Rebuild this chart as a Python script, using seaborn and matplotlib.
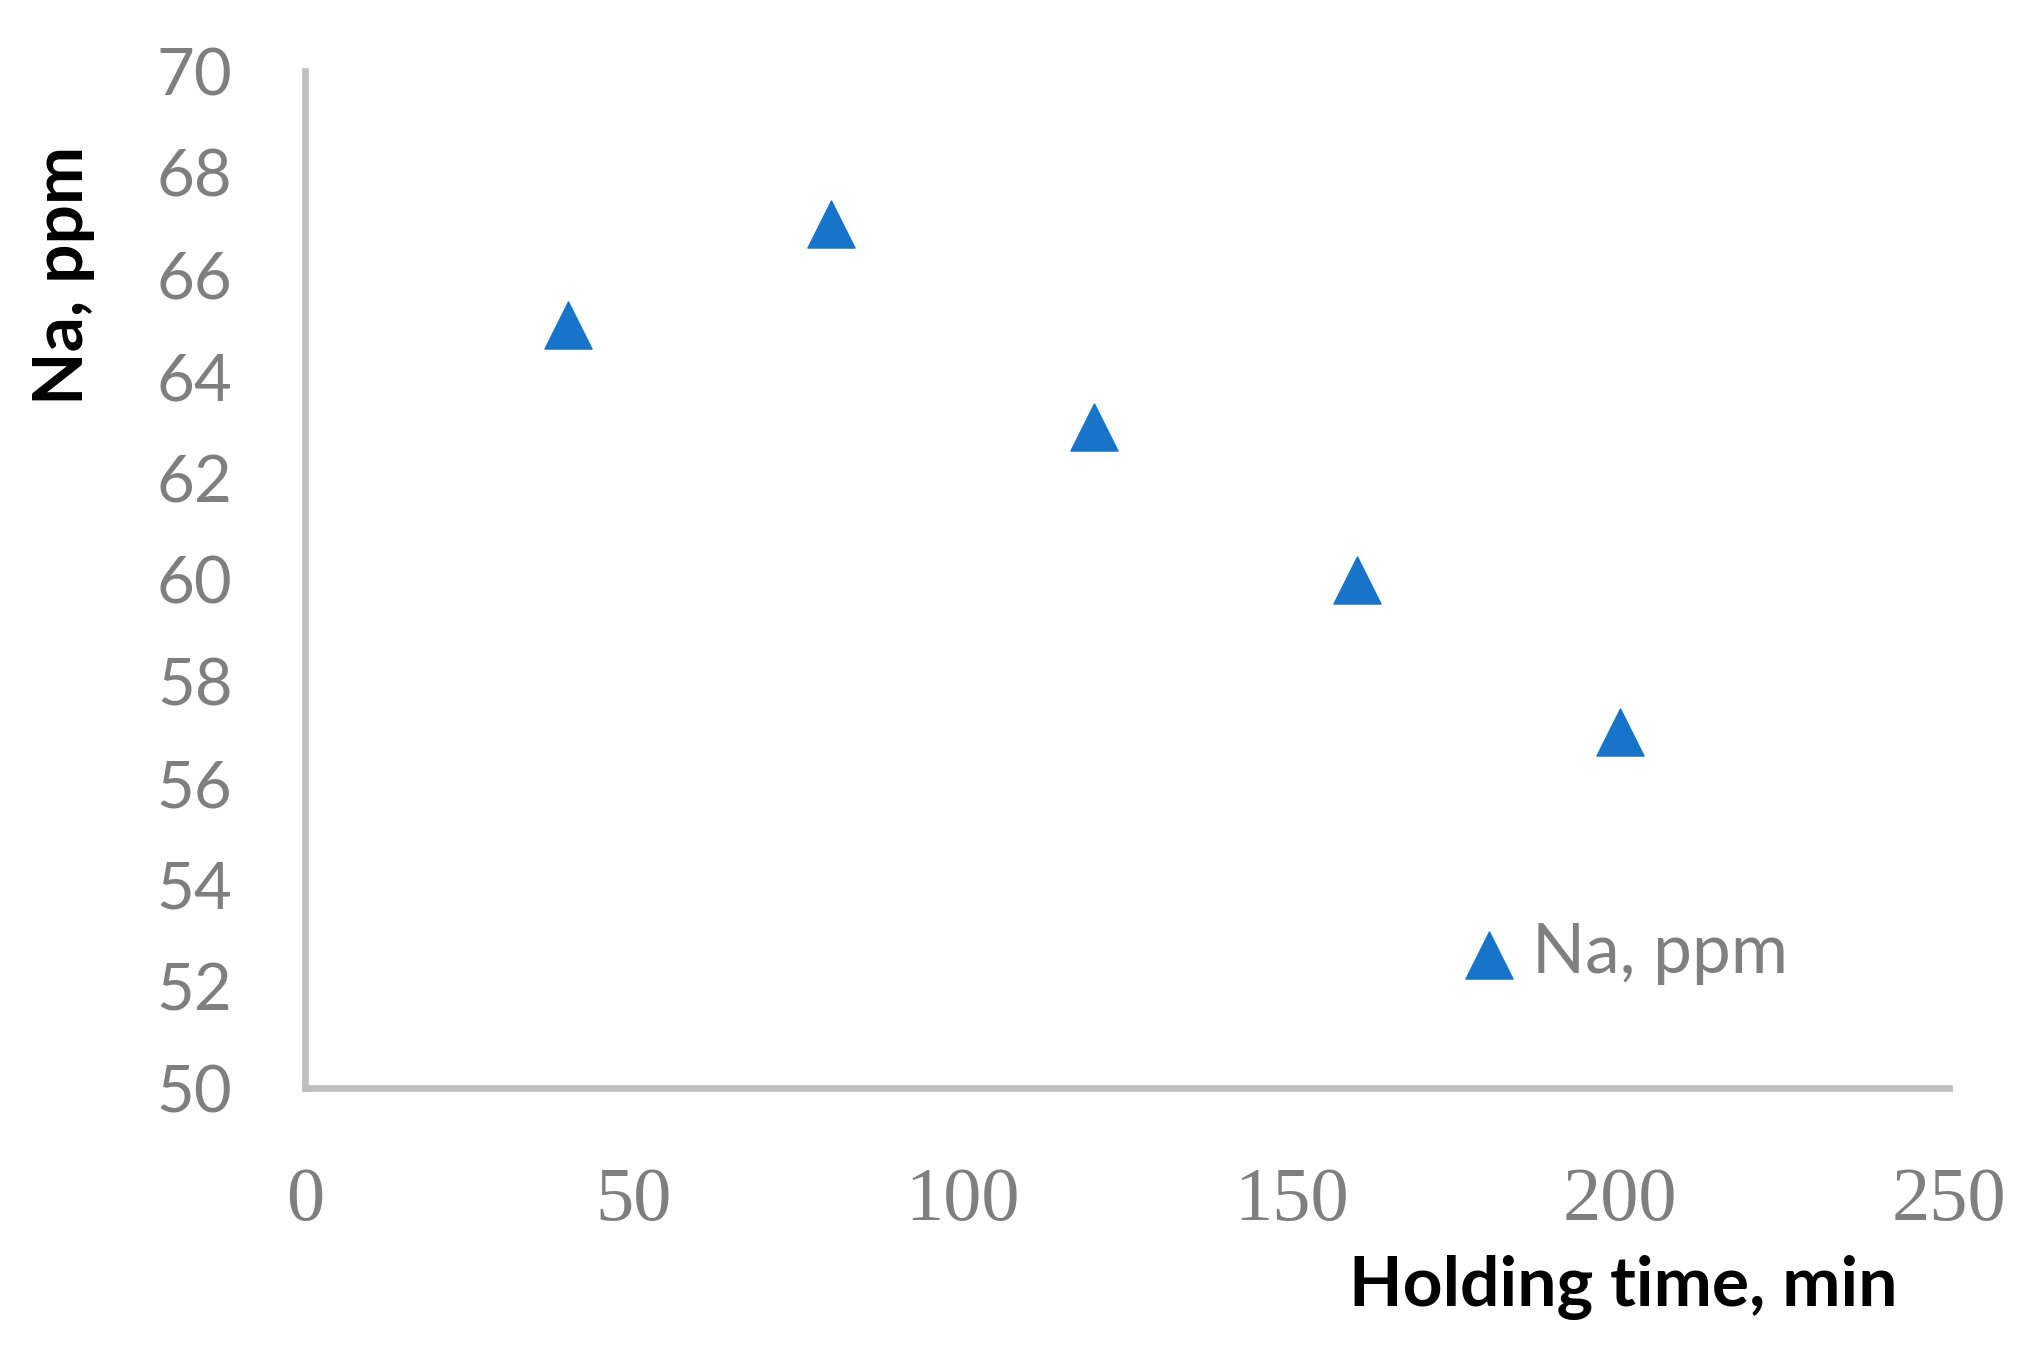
import matplotlib
matplotlib.use('Agg')
import matplotlib.pyplot as plt
import seaborn as sns
import pandas as pd

sns.set_style('white')
plt.rcParams['font.family'] = ['Lato', 'DejaVu Sans']

# data
holding_time = [40, 80, 120, 160, 200]
na_ppm = [65, 67, 63, 60, 57]
x_ticks = [0, 50, 100, 150, 200, 250]
y_ticks = [50, 52, 54, 56, 58, 60, 62, 64, 66, 68, 70]

df = pd.DataFrame({'Holding time, min': holding_time, 'Na, ppm': na_ppm})

marker_color = '#1874C8'
tick_gray = '#7F7F7F'
axis_gray = '#BFBFBF'

fig = plt.figure(figsize=(20.32, 13.45), dpi=100)
ax = fig.add_axes([0.150, 0.191, 0.809, 0.756])

sns.scatterplot(data=df, x='Holding time, min', y='Na, ppm', marker='^',
                s=1150, color=marker_color, edgecolor=marker_color,
                linewidth=1, label='Na, ppm', ax=ax, zorder=3)

ax.set_xlim(0, 250)
ax.set_ylim(50, 70)
ax.set_xticks(x_ticks)
ax.set_yticks(y_ticks)

for s in ['top', 'right']:
    ax.spines[s].set_visible(False)
for s in ['left', 'bottom']:
    ax.spines[s].set_color(axis_gray)
    ax.spines[s].set_linewidth(4.8)

ax.tick_params(axis='both', length=0)
ax.tick_params(axis='y', pad=52, labelsize=47, labelcolor=tick_gray)
ax.tick_params(axis='x', pad=57, labelsize=55, labelcolor=tick_gray)
for lbl in ax.get_xticklabels():
    lbl.set_family(['Liberation Serif', 'DejaVu Serif'])

ax.set_xlabel('Holding time, min', fontsize=50, fontweight='bold',
              color='black', va='baseline', ha='center')
ax.xaxis.set_label_coords(0.802, -0.214)
ax.set_ylabel('Na, ppm', fontsize=50, fontweight='bold', color='black',
              va='center', ha='center')
ax.yaxis.set_label_coords(-0.147, 0.799)

leg = ax.legend(loc='center left', bbox_to_anchor=(0.700, 0.132),
                frameon=False, fontsize=50, handlelength=0.95,
                handletextpad=0.15, borderpad=0, borderaxespad=0)
for t in leg.get_texts():
    t.set_color(tick_gray)

fig.savefig('out.png', dpi=100)
